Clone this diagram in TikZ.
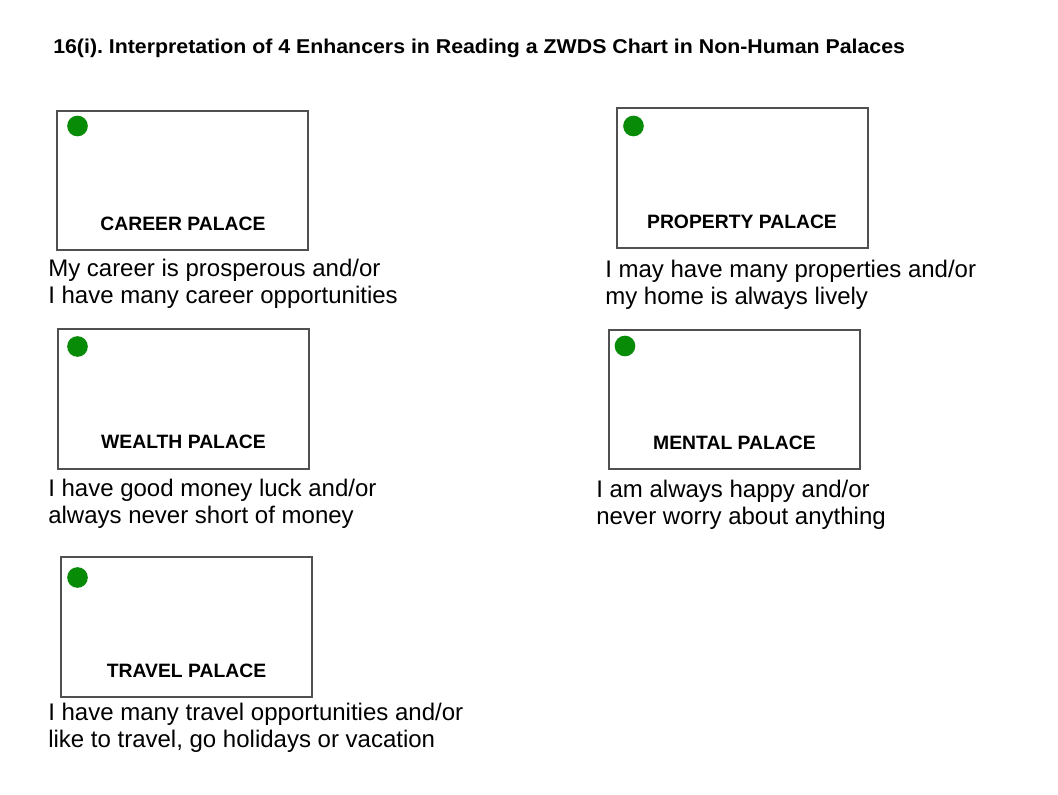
\documentclass[tikz,border=0pt]{standalone}
\usepackage{fontspec}
\setmainfont{Liberation Sans}
\definecolor{dotgreen}{RGB}{8,140,8}
\definecolor{boxline}{RGB}{80,80,80}
\begin{document}
\frenchspacing
\begin{tikzpicture}[x=0.75pt,y=-0.75pt,
  palace/.style={draw=boxline,line width=0.9pt,fill=white},
  dot/.style={circle,fill=dotgreen,inner sep=0pt,minimum size=15.5pt},
  plabel/.style={anchor=base,font=\fontsize{14.5pt}{17pt}\selectfont\bfseries,inner sep=0pt},
  desc/.style={anchor=base west,align=left,inner sep=0pt,font=\fontsize{18pt}{20.25pt}\selectfont},
  ttl/.style={anchor=base west,inner sep=0pt,font=\fontsize{15pt}{18pt}\selectfont\bfseries}]
\useasboundingbox[fill=white] (0,0) rectangle (1058,794);

\node[ttl] (title) at (53,53) {\scalebox{1.066}[1]{16(i). Interpretation of 4 Enhancers in Reading a ZWDS Chart in Non-Human Palaces}};

% Career
\draw[palace] (57,111) rectangle (308,250);
\node[dot] (careerdot) at (77.5,126) {};
\node[plabel] (careerlbl) at (183,230) {CAREER PALACE};
\node[desc] (careertxt) at (48,303) {My career is prosperous and/or\\I have many career opportunities};

% Property
\draw[palace] (617,108) rectangle (868,248);
\node[dot] (propdot) at (633.5,126) {};
\node[plabel] (proplbl) at (742,228) {PROPERTY PALACE};
\node[desc] (proptxt) at (605,304.5) {I may have many properties and/or\\my home is always lively};

% Wealth
\draw[palace] (58,329) rectangle (309,469);
\node[dot] (wealthdot) at (77.5,346.5) {};
\node[plabel] (wealthlbl) at (183.5,448.5) {WEALTH PALACE};
\node[desc] (wealthtxt) at (48,523) {I have good money luck and/or\\always never short of money};

% Mental
\draw[palace] (609,330) rectangle (860,469);
\node[dot] (mentaldot) at (625,346) {};
\node[plabel] (mentallbl) at (734.5,449.5) {MENTAL PALACE};
\node[desc] (mentaltxt) at (596,524) {I am always happy and/or\\never worry about anything};

% Travel
\draw[palace] (61,557) rectangle (312,697);
\node[dot] (traveldot) at (77.5,577.5) {};
\node[plabel] (travellbl) at (186.5,677) {TRAVEL PALACE};
\node[desc] (traveltxt) at (48,747) {I have many travel opportunities and/or\\like to travel, go holidays or vacation};
\end{tikzpicture}
\end{document}
